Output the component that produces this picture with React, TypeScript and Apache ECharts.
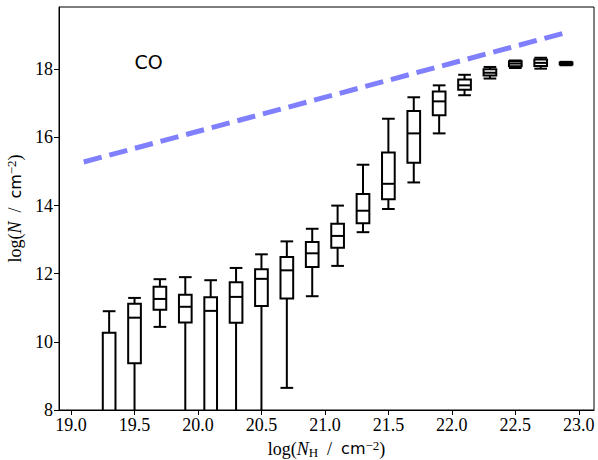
import React, { useEffect, useRef } from "react";
import * as echarts from "echarts";

// Box positions (log N_H) and box statistics (log N)
const positions = [19.3, 19.5, 19.7, 19.9, 20.1, 20.3, 20.5, 20.7, 20.9, 21.1, 21.3, 21.5, 21.7, 21.9, 22.1, 22.3, 22.5, 22.7, 22.9];
const whiskerLow = [5.8, 6.5, 10.44, 6.8, 6.0, 6.9, 7.0, 8.65, 11.34, 12.23, 13.22, 13.9, 14.68, 16.12, 17.24, 17.73, 18.04, 18.02, 18.12];
const q1 = [6.9, 9.37, 10.94, 10.57, 7.5, 10.56, 11.05, 11.27, 12.2, 12.76, 13.48, 14.19, 15.26, 16.65, 17.4, 17.82, 18.09, 18.1, 18.14];
const median = [7.7, 10.71, 11.26, 11.03, 10.91, 11.32, 11.85, 12.1, 12.6, 13.11, 13.85, 14.64, 16.12, 17.06, 17.53, 17.9, 18.17, 18.19, 18.17];
const q3 = [10.27, 11.12, 11.62, 11.38, 11.31, 11.75, 12.13, 12.49, 12.93, 13.47, 14.34, 15.56, 16.78, 17.35, 17.7, 18.0, 18.24, 18.29, 18.2];
const whiskerHigh = [10.9, 11.29, 11.84, 11.9, 11.81, 12.17, 12.57, 12.95, 13.32, 14.0, 15.2, 16.55, 17.18, 17.53, 17.84, 18.07, 18.26, 18.34, 18.22];

// Reference line (CO)
const lineX = [19.1, 22.9];
const lineY = [15.28, 19.08];
const labelText = "CO";
const labelPos = [19.5, 18.0];

const xTicks = [19.0, 19.5, 20.0, 20.5, 21.0, 21.5, 22.0, 22.5, 23.0];
const yTicks = [8, 10, 12, 14, 16, 18];
const X_MIN = 18.905;
const X_MAX = 23.12;
const Y_MIN = 8;
const Y_MAX = 19.83;

const SERIF = "'Liberation Serif', 'DejaVu Serif', serif";
const SANS = "'DejaVu Sans', sans-serif";

export default function App() {
  const ref = useRef<HTMLDivElement>(null);
  useEffect(() => {
    if (!ref.current) return;
    const chart = echarts.init(ref.current, null, { renderer: "svg" });
    const boxData = positions.map((x, i) => [x, whiskerLow[i], q1[i], median[i], q3[i], whiskerHigh[i]]);
    const rich = {
      a: { fontFamily: SERIF, fontSize: 18, color: "#000", lineHeight: 20 },
      i: { fontFamily: SERIF, fontSize: 18, fontStyle: "italic", color: "#000", lineHeight: 20 },
      s: { fontFamily: SERIF, fontSize: 13, color: "#000", verticalAlign: "bottom", lineHeight: 10 },
      b: { fontFamily: SANS, fontSize: 16, color: "#000", lineHeight: 20 },
      p: { fontFamily: SERIF, fontSize: 13, color: "#000", verticalAlign: "top", lineHeight: 10 },
    };
    const stroke = { stroke: "#000", lineWidth: 2, fill: "none" };
    chart.setOption({
      animation: false,
      backgroundColor: "#fff",
      grid: {
        left: 59, right: 4, top: 7, bottom: 50,
        show: true, borderColor: "#000", borderWidth: 1,
        containLabel: false, outerBoundsMode: "none",
      },
      xAxis: {
        type: "value",
        min: X_MIN,
        max: X_MAX,
        name: "{a|log(}{i|N}{s|H}{a|  /  }{b|cm}{p|−2}{a|)}",
        nameLocation: "middle",
        nameGap: 26,
        nameTextStyle: { rich },
        axisLine: { show: true, onZero: false, lineStyle: { color: "#000", width: 1 } },
        axisTick: { show: true, inside: false, length: 5, customValues: xTicks, lineStyle: { color: "#000", width: 1 } },
        axisLabel: {
          customValues: xTicks,
          formatter: (v: number) => v.toFixed(1),
          fontFamily: SERIF,
          fontSize: 18,
          color: "#000",
          margin: 6,
        },
        splitLine: { show: false },
      },
      yAxis: {
        type: "value",
        min: Y_MIN,
        max: Y_MAX,
        name: "{a|log(}{i|N}{a|  /  }{b|cm}{p|−2}{a|)}",
        nameLocation: "middle",
        nameRotate: 90,
        nameGap: 33,
        nameTextStyle: { rich },
        axisLine: { show: true, onZero: false, lineStyle: { color: "#000", width: 1 } },
        axisTick: { show: true, inside: false, length: 5, customValues: yTicks, lineStyle: { color: "#000", width: 1 } },
        axisLabel: {
          customValues: yTicks,
          formatter: (v: number) => String(v),
          fontFamily: SERIF,
          fontSize: 18,
          color: "#000",
          margin: 6,
        },
        splitLine: { show: false },
      },
      series: [
        {
          type: "line",
          data: lineX.map((x, i) => [x, lineY[i]]),
          showSymbol: false,
          symbol: "none",
          lineStyle: { color: "#8080ff", width: 5, type: [18.5, 8], cap: "butt" },
          z: 2,
        },
        {
          type: "custom",
          data: boxData,
          encode: { x: 0, y: [1, 2, 3, 4, 5] },
          z: 3,
          renderItem: (params: any, api: any) => {
            const x = api.value(0) as number;
            const lo = api.value(1) as number;
            const a = api.value(2) as number;
            const m = api.value(3) as number;
            const b = api.value(4) as number;
            const hi = api.value(5) as number;
            const w = api.size([0.1, 0])[0];
            const cl = (v: number) => Math.max(Y_MIN, Math.min(Y_MAX, v));
            const cx = api.coord([x, Y_MIN])[0];
            const py = (v: number) => api.coord([x, cl(v)])[1];
            const L = cx - w / 2;
            const R = cx + w / 2;
            const children: any[] = [];
            children.push({ type: "line", shape: { x1: cx, y1: py(b), x2: cx, y2: py(hi) }, style: stroke });
            children.push({ type: "line", shape: { x1: L, y1: py(hi), x2: R, y2: py(hi) }, style: stroke });
            if (a > Y_MIN) {
              children.push({ type: "line", shape: { x1: cx, y1: py(a), x2: cx, y2: py(lo) }, style: stroke });
            }
            if (lo >= Y_MIN) {
              children.push({ type: "line", shape: { x1: L, y1: py(lo), x2: R, y2: py(lo) }, style: stroke });
            }
            if (a >= Y_MIN) {
              children.push({ type: "rect", shape: { x: L, y: py(b), width: w, height: py(a) - py(b) }, style: stroke });
            } else {
              children.push({
                type: "polyline",
                shape: { points: [[L, py(a)], [L, py(b)], [R, py(b)], [R, py(a)]] },
                style: stroke,
              });
            }
            if (m >= Y_MIN) {
              children.push({ type: "line", shape: { x1: L, y1: py(m), x2: R, y2: py(m) }, style: stroke });
            }
            return { type: "group", children };
          },
        },
        {
          type: "custom",
          data: [[labelPos[0], labelPos[1]]],
          z: 4,
          renderItem: (params: any, api: any) => {
            const p = api.coord([api.value(0), api.value(1)]);
            return {
              type: "text",
              x: p[0],
              y: p[1] + 2,
              style: {
                text: labelText,
                fontFamily: SANS,
                fontSize: 19,
                fill: "#000",
                align: "left",
                verticalAlign: "bottom",
              },
            };
          },
        },
      ],
    });
    return () => chart.dispose();
  }, []);
  return <div ref={ref} style={{ position: "fixed", left: 0, top: 0, width: 598, height: 460 }} />;
}
